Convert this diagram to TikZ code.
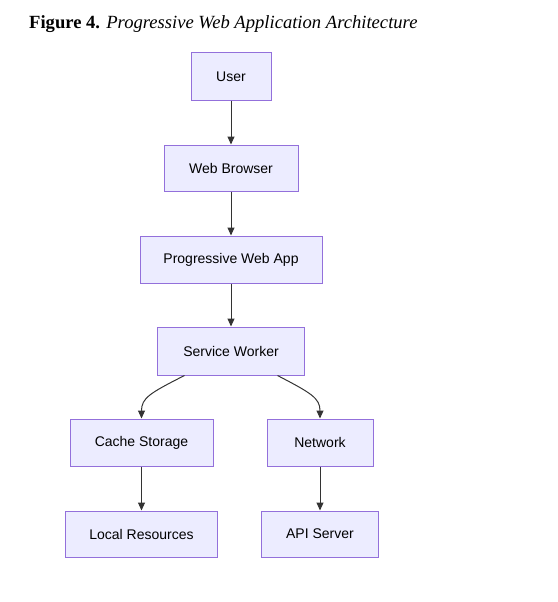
\documentclass[tikz,border=0pt]{standalone}
\usepackage{fontspec}
\setmainfont{Liberation Serif}
\newfontfamily\boxfont{Liberation Sans}
\usetikzlibrary{arrows.meta,calc}
\definecolor{boxfill}{HTML}{ECECFF}
\definecolor{boxline}{HTML}{9370DB}
\definecolor{edgecol}{HTML}{333333}
\begin{document}
\begin{tikzpicture}[x=1pt,y=-1pt,
  box/.style={draw=boxline,fill=boxfill,line width=1pt,inner sep=0pt,
    font=\boxfont\fontsize{14}{16}\selectfont,text=black},
  edge/.style={draw=edgecol,line width=1pt,-{Triangle[length=8pt,width=7pt]}}]
\useasboundingbox (0,0) rectangle (557,602);
\node[anchor=base west,inner sep=0pt,font=\fontsize{18.6}{20}\selectfont] (title) at (29,29)
  {\textbf{Figure 4.} \textit{Progressive Web Application Architecture}};
\node[box,minimum width=80pt,minimum height=47pt] (user) at (231,76.5) {User};
\node[box,minimum width=134pt,minimum height=46pt] (browser) at (231,168) {Web Browser};
\node[box,minimum width=182pt,minimum height=47pt] (pwa) at (231,259.5) {Progressive Web App};
\node[box,minimum width=147pt,minimum height=48pt] (sw) at (231,351) {Service Worker};
\node[box,minimum width=143pt,minimum height=47pt] (cache) at (141.5,442.5) {Cache Storage};
\node[box,minimum width=106pt,minimum height=47pt] (net) at (320,442.5) {Network};
\node[box,minimum width=152pt,minimum height=46pt] (local) at (141.5,534) {Local Resources};
\node[box,minimum width=117pt,minimum height=46pt] (api) at (320,534) {API Server};
\coordinate (swl) at ([xshift=-46.5pt]sw.south);
\coordinate (swr) at ([xshift=46.5pt]sw.south);
\draw[edge] (user) -- (browser);
\draw[edge] (browser) -- (pwa);
\draw[edge] (pwa) -- (sw);
\draw[edge] (swl) .. controls (150,393) and (141.5,398) .. (cache.north);
\draw[edge] (swr) .. controls (311,393) and (320,398) .. (net.north);
\draw[edge] (cache) -- (local);
\draw[edge] (net) -- (api);
\end{tikzpicture}
\end{document}
